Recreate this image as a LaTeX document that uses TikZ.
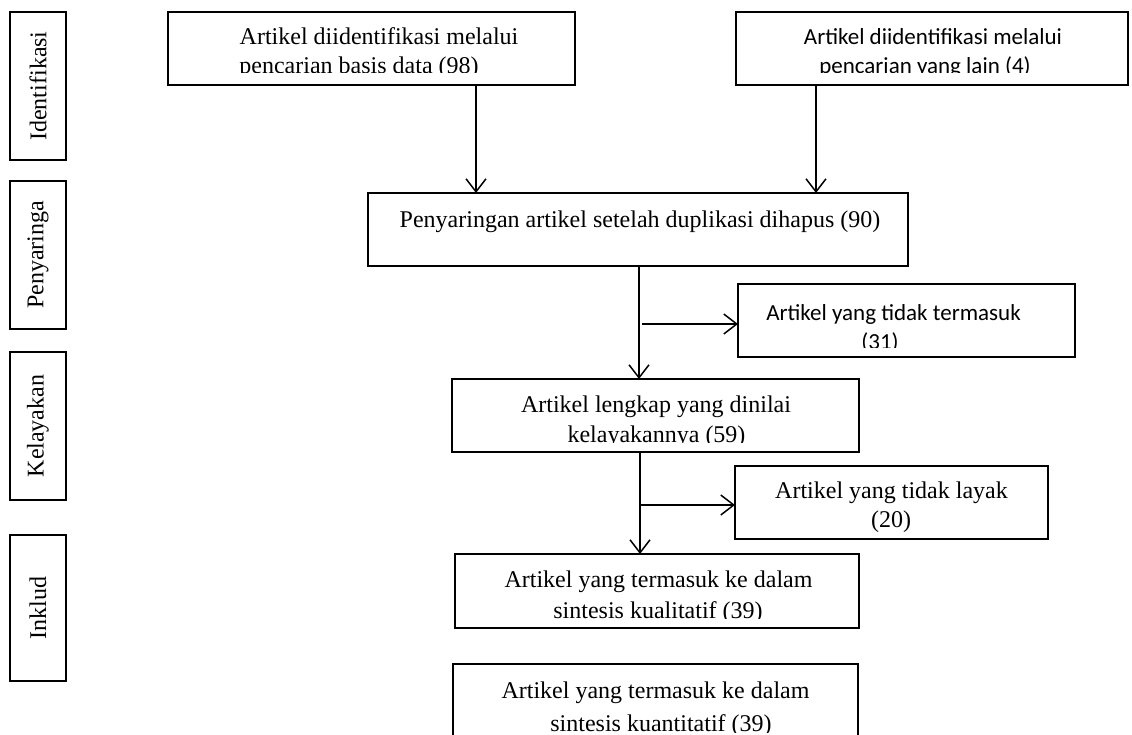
\documentclass[tikz,border=0pt]{standalone}
\usepackage{fontspec}
\setmainfont{Liberation Serif}
\newfontfamily\calfont{Carlito}
\usetikzlibrary{arrows.meta}
\begin{document}
\begin{tikzpicture}[x=1pt,y=-1pt,
  box/.style={draw, line width=1.6pt, inner sep=0pt, outer sep=0pt},
  txt/.style={anchor=base, inner sep=0pt, font=\fontsize{24}{29}\selectfont},
  ctxt/.style={anchor=base, inner sep=0pt, font=\calfont\fontsize{23}{28}\selectfont},
  side/.style={rotate=90, inner sep=0pt, font=\fontsize{24}{28}\selectfont},
  arr/.style={line width=1.5pt, -{Straight Barb[length=13pt,width=20pt,line width=1.5pt]}}]
\useasboundingbox (0,0) rectangle (1132,734);

% side stage boxes
\node[box, minimum width=56pt, minimum height=148pt] (S1) at (38,86) {};
\node[side] (S1t) at (S1.center) {Identifikasi};
\node[box, minimum width=56pt, minimum height=148pt] (S2) at (38,255) {};
\node[side] (S2t) at (S2.center) {Penyaringa};
\node[box, minimum width=56pt, minimum height=148pt] (S3) at (38,426) {};
\node[side] (S3t) at (S3.center) {Kelayakan};
\node[box, minimum width=56pt, minimum height=146pt] (S4) at (38,608) {};
\node[side] (S4t) at (S4.center) {Inklud};

% main boxes
\node[box, minimum width=407pt, minimum height=73pt] (A) at (371.5,48.5) {};
\node[box, minimum width=392pt, minimum height=73pt] (B) at (932,48.5) {};
\node[box, minimum width=540pt, minimum height=73pt] (C) at (638,229.5) {};
\node[box, minimum width=337pt, minimum height=73pt] (D) at (906.5,320.5) {};
\node[box, minimum width=407pt, minimum height=73pt] (E) at (655.5,415.5) {};
\node[box, minimum width=313pt, minimum height=73pt] (F) at (891.5,502.5) {};
\node[box, minimum width=404pt, minimum height=74pt] (G) at (657,591) {};
\node[box, minimum width=405pt, minimum height=76pt] (H) at (655.5,702) {};

% texts (clipped like the reference)
\begin{scope}
\clip (168,12) rectangle (575,72);
\node[txt] (A1) at (379,44) {Artikel diidentifikasi melalui};
\node[txt] (A2) at (359,73) {pencarian basis data (98)};
\end{scope}
\begin{scope}
\clip (736,12) rectangle (1128,72);
\node[ctxt] (B1) at (933,44) {Artikel diidentifikasi melalui};
\node[ctxt] (B2) at (925,73) {pencarian yang lain (4)};
\end{scope}
\node[txt] (C1) at (640,227) {Penyaringan artikel setelah duplikasi dihapus (90)};
\begin{scope}
\clip (738,284) rectangle (1075,347);
\node[ctxt] (D1) at (893.5,320) {Artikel yang tidak termasuk};
\node[ctxt] (D2) at (880,349) {(31)};
\end{scope}
\begin{scope}
\clip (452,379) rectangle (859,442);
\node[txt] (E1) at (656,412) {Artikel lengkap yang dinilai};
\node[txt] (E2) at (656.5,442) {kelayakannya (59)};
\end{scope}
\node[txt] (F1) at (891.5,498) {Artikel yang tidak layak};
\node[txt] (F2) at (891,527) {(20)};
\begin{scope}
\clip (455,554) rectangle (859,618);
\node[txt] (G1) at (658.5,587) {Artikel yang termasuk ke dalam};
\node[txt] (G2) at (658,618) {sintesis kualitatif (39)};
\end{scope}
\begin{scope}
\clip (453,664) rectangle (858,732);
\node[txt] (H1) at (655.5,698) {Artikel yang termasuk ke dalam};
\node[txt] (H2) at (661,731) {sintesis kuantitatif (39)};
\end{scope}

% connectors
\coordinate (xa) at (476,0);
\coordinate (xb) at (816,0);
\coordinate (xc) at (639,0);
\coordinate (xd) at (642,0);
\coordinate (yd) at (0,324);
\coordinate (xe) at (640,0);
\coordinate (yf) at (0,505);
\draw[arr] (A.south -| xa) -- (C.north -| xa);
\draw[arr] (B.south -| xb) -- (C.north -| xb);
\draw[arr] (C.south -| xc) -- (E.north -| xc);
\draw[arr] (xd |- yd) -- (D.west |- yd);
\draw[arr] (E.south -| xe) -- (G.north -| xe);
\draw[arr] (xe |- yf) -- (F.west |- yf);
\end{tikzpicture}
\end{document}
